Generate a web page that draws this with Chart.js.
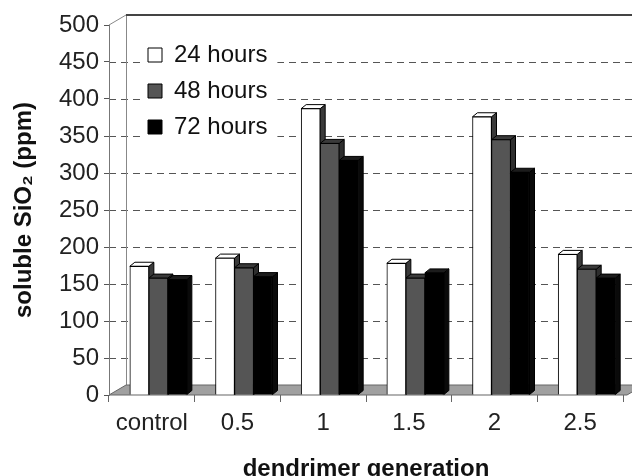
<!DOCTYPE html>
<html><head><meta charset="utf-8">
<script src="https://cdn.jsdelivr.net/npm/chart.js@4/dist/chart.umd.min.js"></script>
<style>html,body{margin:0;padding:0;background:#fff}canvas{display:block}</style>
</head><body>
<canvas id="c" width="632" height="476" style="width:632px;height:476px"></canvas>
<script>
const categories = ['control', '0.5', '1', '1.5', '2', '2.5'];
const seriesNames = ['24 hours', '48 hours', '72 hours'];
const hours24 = [174, 185, 387, 178, 376, 190];
const hours48 = [158, 172, 340, 158, 345, 170];
const hours72 = [156, 160, 317, 165, 301, 158];
const yTicks = [0, 50, 100, 150, 200, 250, 300, 350, 400, 450, 500];
const xTitle = 'dendrimer generation';
const yTitle = 'soluble SiO\u2082 (ppm)';

const FONT = '"Liberation Sans", Arial, sans-serif';
Chart.defaults.font.family = FONT;

const WALL = {dx: 17, dy: 10};
const BAR3D = {dx: 5, dy: 4};
const fronts = ['#ffffff', '#555555', '#000000'];
const sides = ['#3a3a3a', '#2e2e2e', '#0a0a0a'];
const tops = ['#ffffff', '#3a3a3a', '#1c1c1c'];

function seg(ctx, x1, y1, x2, y2) { ctx.beginPath(); ctx.moveTo(x1, y1); ctx.lineTo(x2, y2); ctx.stroke(); }

const framePlugin = {
  id: 'frame3d',
  afterLayout(chart) {
    const lg = chart.legend;
    if (lg) { lg.left = 136; lg.top = 31; }
  },
  beforeDraw(chart) {
    const {ctx, chartArea: a, scales: {y}} = chart;
    const W = chart.width;
    const y0 = y.getPixelForValue(yTicks[0]);
    const yT = y.getPixelForValue(yTicks[yTicks.length - 1]);
    ctx.save();
    // gridlines
    ctx.setLineDash([7, 5]);
    ctx.strokeStyle = '#555';
    ctx.lineWidth = 1;
    yTicks.slice(1, -1).forEach(v => {
      const py = Math.round(y.getPixelForValue(v)) + 0.5;
      seg(ctx, a.left, py, W, py);
    });
    ctx.setLineDash([]);
    // back wall edge
    ctx.strokeStyle = '#888';
    ctx.lineWidth = 1;
    seg(ctx, a.left + WALL.dx + 0.5, yT - WALL.dy, a.left + WALL.dx + 0.5, y0 - WALL.dy);
    seg(ctx, a.left, yT, a.left + WALL.dx, yT - WALL.dy);
    ctx.strokeStyle = '#444';
    ctx.lineWidth = 2;
    seg(ctx, a.left + WALL.dx, yT - WALL.dy, W, yT - WALL.dy);
    // floor
    ctx.beginPath();
    ctx.moveTo(a.left, y0);
    ctx.lineTo(a.right + 4, y0);
    ctx.lineTo(a.right + 4 + WALL.dx, y0 - WALL.dy);
    ctx.lineTo(a.left + WALL.dx, y0 - WALL.dy);
    ctx.closePath();
    ctx.fillStyle = '#a0a0a0';
    ctx.fill();
    ctx.strokeStyle = '#666';
    ctx.lineWidth = 1;
    ctx.stroke();
    // legend background
    const lg = chart.legend;
    if (lg && lg.columnSizes && lg.columnSizes[0]) {
      const n = lg.legendItems.length;
      ctx.fillStyle = '#fff';
      ctx.fillRect(lg.left + 4, lg.top + 4, lg.columnSizes[0].width + 18, n * 36 + 8);
    }
    ctx.restore();
  },
  beforeDatasetsDraw(chart) {
    const ctx = chart.ctx;
    ctx.save();
    ctx.lineWidth = 1;
    ctx.strokeStyle = '#000';
    chart.data.datasets.forEach((ds, di) => {
      const meta = chart.getDatasetMeta(di);
      meta.data.forEach(bar => {
        const {x, y, base, width} = bar.getProps(['x', 'y', 'base', 'width'], true);
        const l = x - width / 2, r = x + width / 2;
        ctx.beginPath();
        ctx.moveTo(r, y); ctx.lineTo(r + BAR3D.dx, y - BAR3D.dy);
        ctx.lineTo(r + BAR3D.dx, base - BAR3D.dy); ctx.lineTo(r, base);
        ctx.closePath();
        ctx.fillStyle = sides[di]; ctx.fill(); ctx.stroke();
        ctx.beginPath();
        ctx.moveTo(l, y); ctx.lineTo(l + BAR3D.dx, y - BAR3D.dy);
        ctx.lineTo(r + BAR3D.dx, y - BAR3D.dy); ctx.lineTo(r, y);
        ctx.closePath();
        ctx.fillStyle = tops[di]; ctx.fill(); ctx.stroke();
      });
    });
    ctx.restore();
  }
};

const seriesValues = [hours24, hours48, hours72];
const datasets = seriesValues.map((vals, i) => ({
  label: seriesNames[i],
  data: vals.map((v, k) => ({x: k, y: v})),
  xAxisID: 'xb',
  backgroundColor: fronts[i],
  borderColor: '#000',
  borderWidth: 1,
  barThickness: 19
}));

new Chart(document.getElementById('c'), {
  type: 'bar',
  data: {labels: categories, datasets},
  plugins: [framePlugin],
  options: {
    responsive: false,
    animation: false,
    devicePixelRatio: 1,
    layout: {padding: {top: 25, right: 9, left: 0, bottom: 0}},
    plugins: {
      legend: {
        position: 'chartArea', align: 'start',
        labels: {boxWidth: 14, boxHeight: 14, padding: 12, color: '#111', font: {size: 24}}
      },
      tooltip: {enabled: false}
    },
    scales: {
      x: {
        type: 'category', labels: categories, offset: true,
        grid: {display: true, drawOnChartArea: false, offset: true, tickLength: 7, color: '#666'},
        border: {display: false},
        ticks: {padding: 7, color: '#222', font: {size: 24}, maxRotation: 0, autoSkip: false},
        title: {display: true, text: xTitle, color: '#111', font: {size: 24, weight: 'bold'}, padding: {top: 0, bottom: -8}},
        afterFit(s) { s.height = 81; }
      },
      xb: {type: 'linear', display: false, offset: false, bounds: 'data', min: -0.576, max: 5.424,
           grid: {offset: false}, ticks: {stepSize: 1}},
      y: {
        min: yTicks[0], max: yTicks[yTicks.length - 1],
        afterBuildTicks(s) { s.ticks = yTicks.map(v => ({value: v})); },
        ticks: {padding: 5, color: '#222', font: {size: 24}},
        grid: {display: true, drawOnChartArea: false, tickLength: 5, color: '#555'},
        border: {display: true, color: '#777'},
        title: {display: true, text: yTitle, color: '#111', font: {size: 24, weight: 'bold'}, padding: {top: 10, bottom: 0}},
        afterFit(s) { s.width = 109; }
      }
    }
  }
});
</script>
</body></html>
